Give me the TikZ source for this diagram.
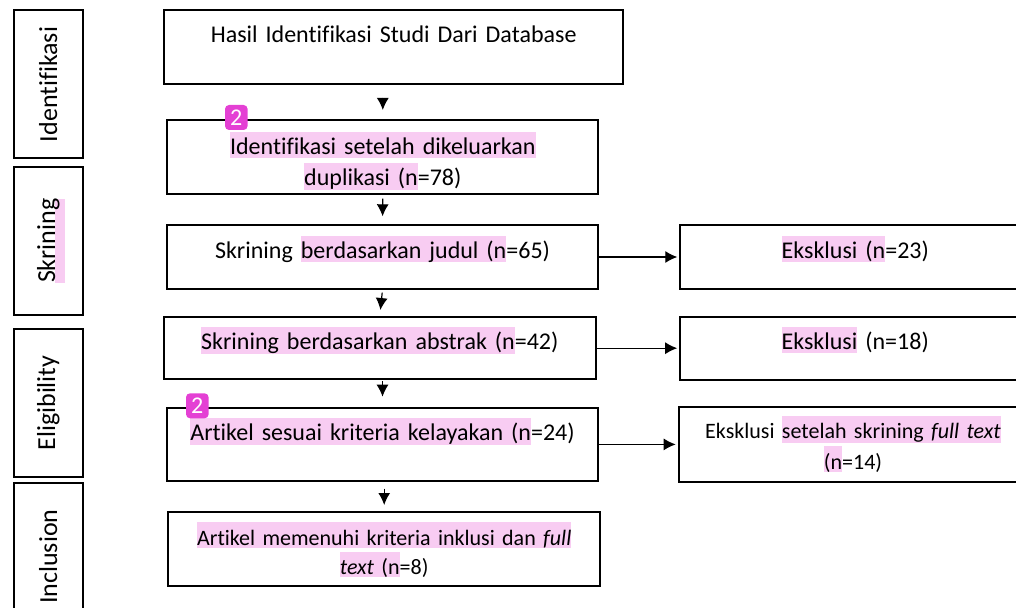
\documentclass[tikz,border=0pt]{standalone}
\usepackage{fontspec}
\setmainfont{Carlito}[Ligatures=NoCommon]
\usepackage{xcolor}
\usetikzlibrary{positioning, arrows.meta}

\definecolor{hlpink}{RGB}{248,204,242}
\definecolor{notemag}{RGB}{228,64,212}
\newcommand{\hl}[1]{{\setlength{\fboxsep}{0pt}\colorbox{hlpink}{\rule[-1.5pt]{0pt}{12.8pt}#1}}}

\begin{document}
\begin{tikzpicture}[x=0.5pt, y=-0.5pt, >={Latex[length=6pt,width=6pt]},
  box/.style={draw, line width=1pt, inner xsep=4pt, inner ysep=0pt, align=center,
    text height=16.5pt, anchor=north, font=\fontsize{12}{15.5}\selectfont},
  stage/.style={draw, line width=1pt, rotate=90, minimum width=74pt, minimum height=34.3pt,
    inner sep=0pt, font=\fontsize{13}{15}\selectfont},
  note/.style={fill=notemag, rounded corners=2pt, text=white, minimum width=11.3pt,
    minimum height=12.5pt, inner sep=0pt, font=\fontsize{12}{13}\selectfont},
  flow/.style={->, line width=0.6pt}]
\useasboundingbox (0,0) rectangle (1016,608);
\clip (0,0) rectangle (1016,608);

% Tahapan
\fill[hlpink] (55,199) rectangle (65,283);
\node[stage] (s1) at (48.3,84.5) {Identifikasi};
\node[stage] (s2) at (48.3,240.8) {Skrining};
\node[stage] (s3) at (48.3,403) {Eligibility};
\node[stage] (s4) at (48.3,556.7) {Inclusion};

% Alur utama
\node[box, text width=221.7pt, text depth=20.3pt] (b1) at (393.7,9) {Hasil Identifikasi Studi Dari Database};
\node[box, text width=207.5pt, text height=17.5pt, text depth=19.3pt] (b2) at (382.8,119)
  {\hl{Identifikasi setelah dikeluarkan}\\ \hl{duplikasi (n}=78)};
\node[box, text width=207.8pt, text depth=15.2pt] (b3) at (382.5,224.3) {Skrining \hl{berdasarkan judul (n}=65)};
\node[box, text width=207.8pt, text depth=14.7pt] (b4) at (379.8,316) {\hl{Skrining berdasarkan abstrak (n}=42)};
\node[box, text width=207.8pt, text depth=20.2pt] (b5) at (382.5,406.7) {\hl{Artikel sesuai kriteria kelayakan (n}=24)};
\node[box, text width=207.8pt, text depth=20.5pt, font=\fontsize{11}{14.7}\selectfont] (b6) at (384.2,511)
  {\hl{Artikel memenuhi kriteria inklusi dan \textit{full}}\\ \hl{\textit{text} (n}=8)};

% Eksklusi
\node[box, text width=167pt, text height=16.8pt, text depth=14.9pt, right=40pt of b3] (e1) {\hl{Eksklusi (n}=23)};
\node[box, text width=167pt, text depth=15pt, right=41.3pt of b4] (e2) {\hl{Eksklusi} (n=18)};
\node[box, text width=166.3pt, text height=15.9pt, text depth=21.3pt, right=39.2pt of b5,
  font=\fontsize{11}{15}\selectfont] (e3) {Eksklusi \hl{setelah skrining \textit{full text}}\\ \hl{(n}=14)};

% Panah
\draw[flow, shorten <=6.5pt, shorten >=4.5pt] (b1.south -| b2.north) -- (b2.north);
\draw[flow, shorten <=2pt, shorten >=4pt] (b2.south) -- (b3.north);
\draw[flow, shorten <=1.5pt, shorten >=3pt] (b3.south) -- (b4.north);
\draw[flow, shorten <=0.5pt, shorten >=5pt] (b4.south -| b5.north) -- (b5.north);
\draw[flow, shorten <=3.3pt, shorten >=3pt] (b5.south -| b6.north) -- (b6.north);
\draw[flow, shorten >=1pt] (b3.east) -- (e1.west);
\draw[flow, shorten >=1pt] (b4.east) -- (e2.west);
\draw[flow, shorten >=1pt] (b5.east) -- (e3.west);

% Komentar
\node[note] (n1) at (236.3,117.5) {2};
\node[note] (n2) at (197.3,405.8) {2};
\end{tikzpicture}
\end{document}
